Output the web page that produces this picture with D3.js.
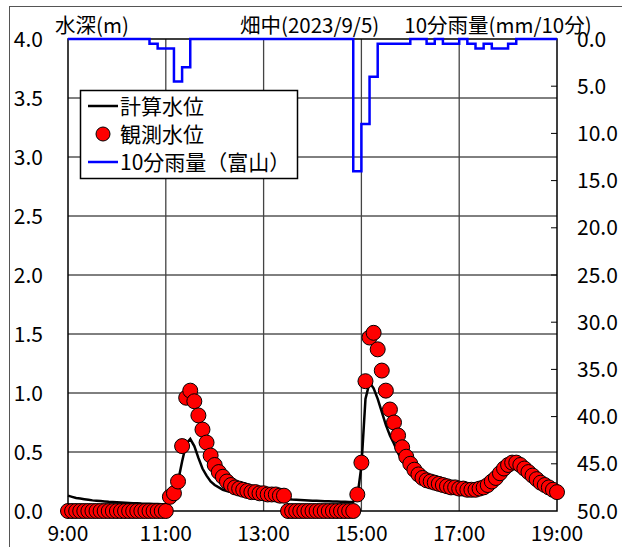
<!DOCTYPE html>
<html>
<head>
<meta charset="utf-8">
<script src="https://cdn.jsdelivr.net/npm/d3@7"></script>
<style>
body{margin:0;background:#fff;}
svg{display:block;}
text{font-family:"Noto Sans CJK JP","Noto Sans",sans-serif;fill:#000;}
</style>
</head>
<body>
<div id="chart"></div>
<script>
//////////////////////////// data ////////////////////////////
// observed water level (m), every 5 min from 9:00
var obsLevel = [
 0,0,0,0,0,0,0,0,0,0,0,0,0,0,0,0,0,0,0,0,0,0,0,0,0,
 0.12,0.15,0.25,0.55,0.96,1.02,0.93,0.81,0.69,0.58,0.47,0.39,0.33,0.29,0.25,
 0.22,0.20,0.19,0.18,0.17,0.16,0.16,0.15,0.15,0.14,0.14,0.14,0.13,0.13,
 0,0,0,0,0,0,0,0,0,0,0,0,0,0,0,0,0,
 0.14,0.41,1.10,1.47,1.51,1.37,1.19,1.02,0.86,0.75,0.64,0.54,0.46,0.40,0.35,0.31,0.28,
 0.26,0.25,0.24,0.23,0.22,0.21,0.20,0.20,0.19,0.19,0.18,0.18,0.18,0.19,0.20,0.22,
 0.25,0.28,0.32,0.36,0.39,0.41,0.41,0.39,0.36,0.33,0.30,0.27,0.24,0.22,0.20,0.18,0.16
];
// computed water level (m), every 5 min from 9:00
var calcLevel = [
 0.13,0.12,0.11,0.105,0.10,0.095,0.09,0.087,0.084,0.081,0.078,0.076,0.074,0.072,0.07,
 0.068,0.066,0.065,0.063,0.062,0.061,0.06,0.059,0.058,0.058,
 0.07,0.12,0.25,0.42,0.57,0.61,0.55,0.45,0.36,0.30,0.25,0.22,0.20,0.18,0.17,
 0.16,0.15,0.145,0.14,0.135,0.13,0.125,0.12,0.12,0.115,0.11,0.11,0.105,0.10,
 0.10,0.097,0.095,0.093,0.091,0.089,0.087,0.086,0.085,0.083,0.082,0.081,0.08,0.079,0.078,0.077,0.077,
 0.12,0.38,0.95,1.09,1.04,0.95,0.84,0.73,0.64,0.57,0.49,0.43,0.39,0.35,0.31,0.28,0.26,
 0.245,0.235,0.225,0.215,0.205,0.20,0.19,0.185,0.18,0.175,0.17,0.17,0.17,0.175,0.185,0.20,
 0.22,0.25,0.28,0.31,0.34,0.36,0.365,0.35,0.33,0.30,0.27,0.25,0.23,0.21,0.19,0.175,0.16
];
// 10-min rainfall (mm), value at end of each 10-min interval, 9:00 - 19:00
var rain10 = [
 0,0,0,0,0,0,0,0,0,0,0,0.5,1.0,1.0,4.5,3.0,
 0,0,0,0,0,0,0,0,0,0,0,0,0,0,0,0,0,0,0,0,
 14.0,9.0,4.0,0.5,0.5,0.5,0.5,0,0,0.5,0,0.5,0.5,0,0.5,1.0,0.5,1.0,1.0,0.5,
 0,0,0,0,0
];
var startTime = new Date(2023, 8, 5, 9, 0);
var endTime = new Date(2023, 8, 5, 19, 0);
var hourTicks = [0, 2, 4, 6, 8, 10];   // hours after 9:00
var levelTicks = [0,0.5,1,1.5,2,2.5,3,3.5,4];
var rainTicks = [0,5,10,15,20,25,30,35,40,45,50];
var titleLeft = "水深(m)";
var titleRight = "畑中(2023/9/5)\u3000 10分雨量(mm/10分)";
var legendNames = ["計算水位", "観測水位", "10分雨量（富山）"];

//////////////////////////// layout ////////////////////////////
var wdim = 622, hdim = 547;
var plot = {left:68, right:557, top:39, bottom:511};

var svg = d3.select("#chart").append("svg")
	.attr("width", wdim)
	.attr("height", hdim);

// outer frame
svg.append("rect")
	.attr("x", 9.5).attr("y", 6.5)
	.attr("width", 700).attr("height", 700)
	.attr("fill", "none")
	.attr("stroke", "#555")
	.attr("stroke-width", 1);

var x = d3.scaleTime().domain([startTime, endTime]).range([plot.left, plot.right]);
var y = d3.scaleLinear().domain([0, 4]).range([plot.bottom, plot.top]);
var yr = d3.scaleLinear().domain([0, 50]).range([plot.top, plot.bottom]);

var obsData = obsLevel.map(function(v, i){ return {t: d3.timeMinute.offset(startTime, 5*i), v: v}; });
var calcData = calcLevel.map(function(v, i){ return {t: d3.timeMinute.offset(startTime, 5*i), v: v}; });
var rainData = rain10.map(function(v, i){ return {t: d3.timeMinute.offset(startTime, 10*i), v: v}; });
var timeTicks = hourTicks.map(function(h){ return d3.timeHour.offset(startTime, h); });

// grid: horizontal
svg.append("g")
	.selectAll("line")
	.data(levelTicks.slice(1, -1))
	.enter().append("line")
	.attr("x1", plot.left).attr("x2", plot.right)
	.attr("y1", function(d){ return y(d); })
	.attr("y2", function(d){ return y(d); })
	.attr("stroke", "#000")
	.attr("stroke-width", 1);

// grid: vertical
svg.append("g")
	.selectAll("line")
	.data(timeTicks.slice(1, -1))
	.enter().append("line")
	.attr("x1", function(d){ return x(d); })
	.attr("x2", function(d){ return x(d); })
	.attr("y1", plot.top).attr("y2", plot.bottom)
	.attr("stroke", "#444")
	.attr("stroke-width", 1.3);

// right axis small ticks
svg.append("g")
	.selectAll("line")
	.data(rainTicks.slice(1, -1))
	.enter().append("line")
	.attr("x1", plot.right - 6).attr("x2", plot.right)
	.attr("y1", function(d){ return yr(d); })
	.attr("y2", function(d){ return yr(d); })
	.attr("stroke", "#000")
	.attr("stroke-width", 1);

// plot frame
svg.append("rect")
	.attr("x", plot.left).attr("y", plot.top)
	.attr("width", plot.right - plot.left)
	.attr("height", plot.bottom - plot.top)
	.attr("fill", "none")
	.attr("stroke", "#000")
	.attr("stroke-width", 1.5);

// tick labels
svg.append("g")
	.selectAll("text")
	.data(levelTicks)
	.enter().append("text")
	.attr("x", 43)
	.attr("y", function(d){ return y(d); })
	.attr("dy", "0.36em")
	.attr("text-anchor", "end")
	.style("font-size", "21px")
	.text(function(d){ return d3.format(".1f")(d); });

svg.append("g")
	.selectAll("text")
	.data(rainTicks)
	.enter().append("text")
	.attr("x", 577)
	.attr("y", function(d){ return yr(d); })
	.attr("dy", "0.36em")
	.attr("text-anchor", "start")
	.style("font-size", "21px")
	.text(function(d){ return d3.format(".1f")(d); });

svg.append("g")
	.selectAll("text")
	.data(timeTicks)
	.enter().append("text")
	.attr("x", function(d){ return x(d); })
	.attr("y", 541)
	.attr("text-anchor", "middle")
	.style("font-size", "21px")
	.text(function(d){ return d3.timeFormat("%-H:%M")(d); });

// titles
svg.append("text")
	.attr("x", 55).attr("y", 33)
	.style("font-size", "20.5px")
	.text(titleLeft);
svg.append("text")
	.attr("x", 240).attr("y", 33)
	.style("font-size", "20.5px")
	.text(titleRight);

// rainfall step line
var rainLine = d3.line()
	.x(function(d){ return x(d.t); })
	.y(function(d){ return yr(d.v); })
	.curve(d3.curveStepBefore);
svg.append("path")
	.datum(rainData)
	.attr("d", rainLine)
	.attr("fill", "none")
	.attr("stroke", "#0000ff")
	.attr("stroke-width", 2.5);

// computed level
var calcLine = d3.line()
	.x(function(d){ return x(d.t); })
	.y(function(d){ return y(d.v); });
svg.append("path")
	.datum(calcData)
	.attr("d", calcLine)
	.attr("fill", "none")
	.attr("stroke", "#000")
	.attr("stroke-width", 2.5);

// observed level
svg.append("g")
	.selectAll("circle")
	.data(obsData)
	.enter().append("circle")
	.attr("cx", function(d){ return x(d.t); })
	.attr("cy", function(d){ return y(d.v); })
	.attr("r", 7.5)
	.attr("fill", "#ff0000")
	.attr("stroke", "#000")
	.attr("stroke-width", 1);

// legend
var lg = svg.append("g");
lg.append("rect")
	.attr("x", 80.5).attr("y", 90.5)
	.attr("width", 217).attr("height", 88)
	.attr("fill", "#fff")
	.attr("stroke", "#000")
	.attr("stroke-width", 1.5);
var rows = [106, 134, 162];
lg.append("line").attr("x1", 88).attr("x2", 118).attr("y1", rows[0]).attr("y2", rows[0])
	.attr("stroke", "#000").attr("stroke-width", 2.5);
lg.append("circle").attr("cx", 103).attr("cy", rows[1]).attr("r", 7)
	.attr("fill", "#ff0000").attr("stroke", "#000").attr("stroke-width", 1);
lg.append("line").attr("x1", 88).attr("x2", 118).attr("y1", rows[2]).attr("y2", rows[2])
	.attr("stroke", "#0000ff").attr("stroke-width", 2.5);
lg.selectAll("text.lab")
	.data(legendNames)
	.enter().append("text")
	.attr("class", "lab")
	.attr("x", 120)
	.attr("y", function(d, i){ return rows[i]; })
	.attr("dy", "0.36em")
	.style("font-size", "21px")
	.text(function(d){ return d; });
</script>
</body>
</html>
